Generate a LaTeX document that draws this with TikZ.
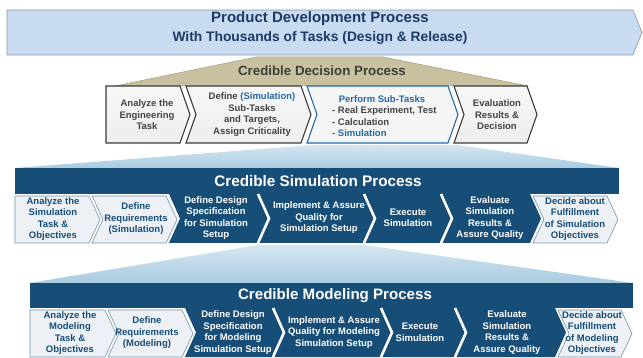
\documentclass[tikz,border=0pt]{standalone}
\usepackage{fontspec}
\setmainfont{Liberation Sans}
\usepackage{tikz}

\definecolor{bannerfill}{HTML}{C8DBF0}
\definecolor{bannerline}{HTML}{8A98A8}
\definecolor{bannertext}{HTML}{1F3A66}
\definecolor{tanfill}{HTML}{C9C09F}
\definecolor{tanline}{HTML}{A89F80}
\definecolor{tantext}{HTML}{3E3E3A}
\definecolor{boxgrey}{HTML}{EEEEEE}
\definecolor{boxline}{HTML}{3A3A3A}
\definecolor{greytext}{HTML}{444444}
\definecolor{blueaccent}{HTML}{2469A6}
\definecolor{navyblue}{HTML}{174E78}
\definecolor{lightbox}{HTML}{EDF1F5}
\definecolor{fantop}{HTML}{D5E6F1}
\definecolor{fanbottom}{HTML}{A8CBE1}

\newcommand{\chevbox}[7]{%
  \pgfmathsetmacro{\chevmid}{(#4+#5)/2}%
  \path[#1] (#2,#4) -- (#3,#4) -- ({#3+#7},\chevmid) -- (#3,#5) -- (#2,#5) -- ({#2+#6},\chevmid) -- cycle;%
}
\newcommand{\chevcut}[4]{%
  \pgfmathsetmacro{\chevmid}{(#2+#3)/2}%
  \draw[white,line width=2.6pt] (#1,#2) -- ({#1+#4},\chevmid) -- (#1,#3);%
}

\begin{document}
\begin{tikzpicture}[x=1pt,y=-1pt]
    \tikzstyle{every node}=[inner sep=0pt]
    \tikzstyle{task}=[align=center,font=\bfseries\fontsize{9.5}{11.5}\selectfont]
    \tikzstyle{grey task}=[task,text=greytext]
    \tikzstyle{light task}=[task,text=navyblue]
    \tikzstyle{dark task}=[task,text=white]
    \tikzstyle{grey box}=[top color=boxgrey!50,bottom color=boxgrey,draw=boxline,line width=1.1pt]
    \tikzstyle{blue box}=[fill=boxgrey!60,draw=blueaccent,line width=1.1pt]
    \tikzstyle{light box}=[fill=lightbox,draw=navyblue!60,line width=0.6pt]
    \tikzstyle{dark box}=[fill=navyblue]
    \tikzstyle{fan}=[top color=fantop,bottom color=fanbottom]

\useasboundingbox (0,0) rectangle (643,358);

% product development
\path[fill=bannerfill,draw=bannerline,line width=0.6pt] (7,10) -- (633,10) -- (642,32.5) -- (633,55) -- (7,55) -- cycle;
\node[font=\bfseries\fontsize{15}{18}\selectfont,text=bannertext] (pdp) at (320,19) {Product Development Process};
\node[font=\bfseries\fontsize{13.8}{16}\selectfont,text=bannertext] (pdpsub) at (320,38) {With Thousands of Tasks (Design \& Release)};

% decision
\path[fill=tanfill,draw=tanline,line width=0.5pt] (256,57) -- (383,57) -- (528,86) -- (115,86) -- cycle;
\node[font=\bfseries\fontsize{13.3}{16}\selectfont,text=tantext] (cdp) at (322,71) {Credible Decision Process};

\chevbox{grey box}{106}{180}{86}{143}{0}{10}
\chevbox{grey box}{186}{301}{86}{143}{10}{10}
\chevbox{blue box}{307}{448}{86}{143}{10}{10}
\chevbox{grey box}{454}{527}{86}{143}{10}{10}

\node[grey task] (d1) at (147,115) {Analyze the\\Engineering\\Task};
\node[grey task] (d2) at (252,114.5) {Define \textcolor{blueaccent}{(Simulation)}\\Sub-Tasks\\and Targets,\\Assign Criticality};
\node[task,text=blueaccent] (d3) at (382,99) {Perform Sub-Tasks};
\node[grey task,align=left,anchor=west] (d3list) at (332,122) {- Real Experiment, Test\\- Calculation\\\textcolor{blueaccent}{- Simulation}};
\node[grey task] (d4) at (497,115) {Evaluation\\Results \&\\Decision};

% simulation
\path[fan] (312,145) -- (458,145) -- (619,168) -- (15,168) -- cycle;
\fill[navyblue] (15,168) rectangle (619,194);
\node[font=\bfseries\fontsize{15.3}{18}\selectfont,text=white] (csp) at (318,181) {Credible Simulation Process};

\chevbox{dark box}{169}{530}{194}{243}{11}{11}
\chevcut{258}{194}{243}{11}
\chevcut{364}{194}{243}{11}
\chevcut{441}{194}{243}{11}
\chevbox{light box}{15}{89}{196}{243}{0}{11}
\chevbox{light box}{92}{166}{196}{243}{11}{11}
\chevbox{light box}{533}{607}{196}{243}{11}{11}

\node[light task] (s1) at (53,219) {Analyze the\\Simulation\\Task \&\\Objectives};
\node[light task] (s2) at (136,219) {Define\\Requirements\\(Simulation)};
\node[dark task] (s3) at (216,218) {Define Design\\Specification\\for Simulation\\Setup};
\node[dark task] (s4) at (319,218) {Implement \& Assure\\Quality for\\Simulation Setup};
\node[dark task] (s5) at (408,218) {Execute\\Simulation};
\node[dark task] (s6) at (490,218) {Evaluate\\Simulation\\Results \&\\Assure Quality};
\node[light task] (s7) at (575,219) {Decide about\\Fulfillment\\of Simulation\\Objectives};

% modeling
\path[fan] (258,245) -- (364,245) -- (633,283) -- (30,283) -- cycle;
\fill[navyblue] (30,283) rectangle (633,308);
\node[font=\bfseries\fontsize{15.1}{18}\selectfont,text=white] (cmp) at (335,295.5) {Credible Modeling Process};

\chevbox{dark box}{185}{555}{308}{357}{11}{11}
\chevcut{273}{308}{357}{11}
\chevcut{381}{308}{357}{11}
\chevcut{455}{308}{357}{11}
\chevbox{light box}{30}{105}{310}{357}{0}{11}
\chevbox{light box}{108}{182}{310}{357}{11}{11}
\chevbox{light box}{558}{621}{310}{357}{11}{11}

\node[light task] (m1) at (70,333) {Analyze the\\Modeling\\Task \&\\Objectives};
\node[light task] (m2) at (147,333) {Define\\Requirements\\(Modeling)};
\node[dark task] (m3) at (233,332.5) {Define Design\\Specification\\for Modeling\\Simulation Setup};
\node[dark task] (m4) at (334,332.5) {Implement \& Assure\\Quality for Modeling\\Simulation Setup};
\node[dark task] (m5) at (420,332.5) {Execute\\Simulation};
\node[dark task] (m6) at (507,332.5) {Evaluate\\Simulation\\Results \&\\Assure Quality};
\node[light task] (m7) at (592,333) {Decide about\\Fulfillment\\of Modeling\\Objectives};
\end{tikzpicture}
\end{document}
